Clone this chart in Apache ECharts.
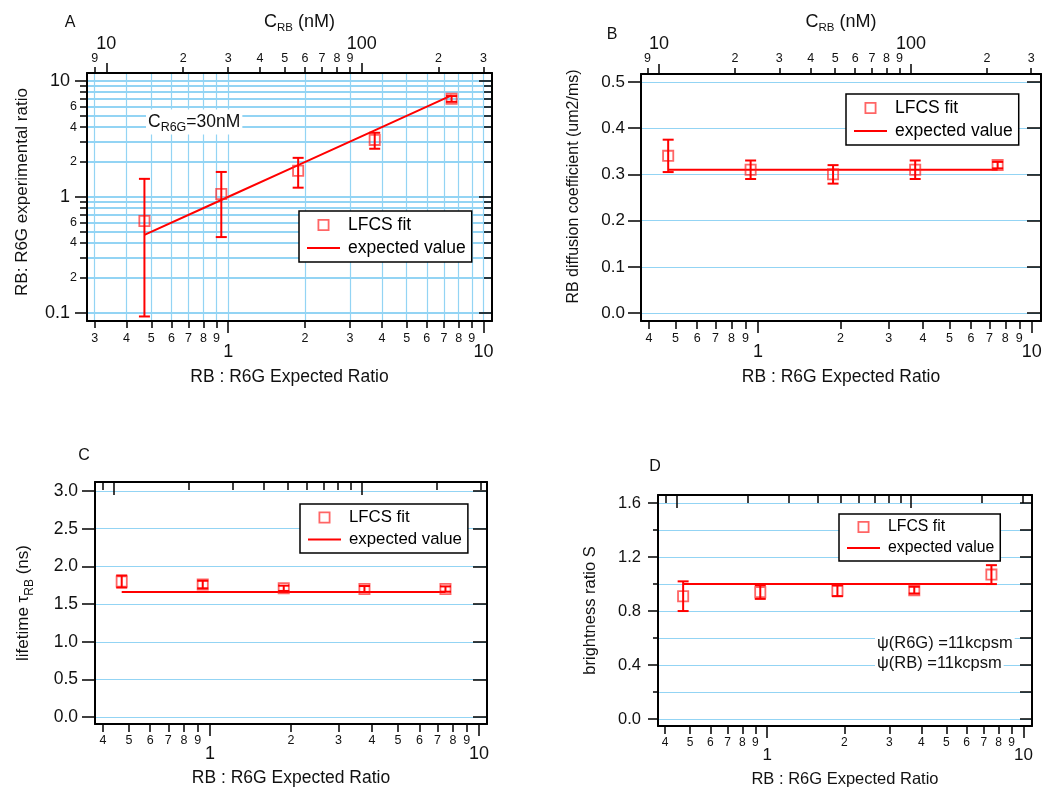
<!DOCTYPE html>
<html><head><meta charset="utf-8">
<script src="https://cdn.jsdelivr.net/npm/echarts@6/dist/echarts.min.js"></script>
<style>html,body{margin:0;padding:0;background:#fff}#c{width:1047px;height:787px}</style>
</head><body><div id="c"></div>
<script>
// ---------------- data ----------------
const expectedRatio = [0.47, 0.94, 1.88, 3.75, 7.5];     // RB : R6G expected ratio (x of every panel)
// Panel A : experimental ratio
const ratioFit = [0.62, 1.06, 1.68, 3.1, 7.0];
const ratioLow = [0.093, 0.45, 1.2, 2.6, 6.6];
const ratioHigh = [1.43, 1.64, 2.17, 3.57, 7.4];
const ratioExpected = [0.47, 0.94, 1.88, 3.75, 7.5];
// Panel B : diffusion coefficient
const diffFit = [0.34, 0.31, 0.30, 0.31, 0.32];
const diffErr = [0.035, 0.02, 0.02, 0.02, 0.007];
const diffExpected = [0.31, 0.31, 0.31, 0.31, 0.31];
// Panel C : lifetime
const lifeFit = [1.80, 1.76, 1.71, 1.70, 1.70];
const lifeErr = [0.08, 0.05, 0.035, 0.04, 0.035];
const lifeExpected = [1.66, 1.66, 1.66, 1.66, 1.66];
// Panel D : brightness ratio
const brightFit = [0.91, 0.94, 0.95, 0.955, 1.07];
const brightErr = [0.11, 0.05, 0.04, 0.025, 0.07];
const brightExpected = [1.0, 1.0, 1.0, 1.0, 1.0];

// ---------------- tick values ----------------
const ratioMajorTicks = [1, 10];
const ratioMinorTicksA = [0.3, 0.4, 0.5, 0.6, 0.7, 0.8, 0.9, 2, 3, 4, 5, 6, 7, 8, 9];
const ratioMinorTicks = [0.4, 0.5, 0.6, 0.7, 0.8, 0.9, 2, 3, 4, 5, 6, 7, 8, 9];
const concMajorTicks = [10, 100];
const concMinorTicks = [9, 20, 30, 40, 50, 60, 70, 80, 90, 200, 300];
const logMajorTicksA = [0.1, 1, 10];
const logMinorTicksA = [0.2, 0.3, 0.4, 0.5, 0.6, 0.7, 0.8, 0.9, 2, 3, 4, 5, 6, 7, 8, 9];
const logMinorLabelsA = [0.2, 0.4, 0.6, 2, 4, 6];
const diffTicks = [0, 0.1, 0.2, 0.3, 0.4, 0.5];
const lifeTicks = [0, 0.5, 1.0, 1.5, 2.0, 2.5, 3.0];
const brightLabelTicks = [0, 0.4, 0.8, 1.2, 1.6];
const brightMinorTicks = [0.2, 0.6, 1.0, 1.4];

// ---------------- styling ----------------
const FONT = '"Liberation Sans", Arial, Helvetica, sans-serif';
const BLUE = '#93d4f4';
const RED = '#ff0000';
const SQ_COLOR = 'rgba(255,30,30,0.85)';
const SQ = 'path://M0,0H12V12H0ZM1.8,1.8V10.2H10.2V1.8Z';
const TXT = '#111';

function leadDigit(v) {
  const p = Math.pow(10, Math.floor(Math.log10(v) + 1e-9));
  return String(Math.round(v / p));
}
function majorLog(v) { return String(+Number(v).toPrecision(6)); }
function fix1(v) { return Number(v).toFixed(1); }

const xAxes = [], yAxes = [];
function ax(list, o) {
  const a = {
    gridIndex: o.g, type: o.type, position: o.pos, min: o.min, max: o.max,
    axisLine: { show: !!o.line, onZero: false, lineStyle: { color: '#000', width: 2 } },
    axisTick: { show: !!(o.ticks && o.ticks.length), customValues: o.ticks || [], length: o.tickLen || 0,
                inside: !!o.inside, lineStyle: { color: '#000', width: 1.5 } },
    axisLabel: { show: !!(o.labels && o.labels.length), customValues: o.labels || [], fontSize: o.fs || 12,
                 fontFamily: FONT, color: TXT, margin: o.margin || 8, formatter: o.fmt },
    splitLine: { show: !!o.split, lineStyle: { color: BLUE, width: o.splitW || 1.2 } },
    minorTick: { show: false }, minorSplitLine: { show: false }
  };
  if (o.type === 'log') a.logBase = 10;
  if (o.name) {
    a.name = o.name; a.nameLocation = 'middle'; a.nameGap = o.nameGap;
    a.nameTextStyle = Object.assign({ fontSize: o.nameFs || 17.5, fontFamily: FONT, color: TXT }, o.nameStyle || {});
  }
  list.push(a);
  return list.length - 1;
}

const grids = [
  { left: 87, top: 73, width: 405, height: 248 },
  { left: 641, top: 74, width: 400, height: 247 },
  { left: 95, top: 482, width: 392, height: 242 },
  { left: 658, top: 495, width: 374, height: 231 }
].map(g => Object.assign({ show: false, outerBoundsMode: 'none', containLabel: false }, g));

const series = [];
function addData(xi, yi, fit, lo, hi, expected) {
  series.push({
    type: 'line', name: 'expected value', xAxisIndex: xi, yAxisIndex: yi, symbol: 'none', showSymbol: false,
    color: RED, lineStyle: { color: RED, width: 2 }, z: 2, silent: true,
    data: expectedRatio.map((x, i) => [x, expected[i]])
  });
  series.push({
    type: 'custom', name: 'error', xAxisIndex: xi, yAxisIndex: yi, z: 4, silent: true,
    data: expectedRatio.map((x, i) => [x, lo[i], hi[i]]),
    renderItem: function (params, api) {
      const x = api.value(0);
      const p1 = api.coord([x, api.value(1)]);
      const p2 = api.coord([x, api.value(2)]);
      const hw = 5.5;
      const st = { stroke: RED, lineWidth: 2 };
      return { type: 'group', children: [
        { type: 'line', shape: { x1: p1[0], y1: p1[1], x2: p2[0], y2: p2[1] }, style: st },
        { type: 'line', shape: { x1: p1[0] - hw, y1: p1[1], x2: p1[0] + hw, y2: p1[1] }, style: st },
        { type: 'line', shape: { x1: p2[0] - hw, y1: p2[1], x2: p2[0] + hw, y2: p2[1] }, style: st }
      ] };
    }
  });
  series.push({
    type: 'scatter', name: 'LFCS fit', xAxisIndex: xi, yAxisIndex: yi, symbol: SQ, symbolSize: 12,
    itemStyle: { color: SQ_COLOR }, z: 3, silent: true,
    data: expectedRatio.map((x, i) => [x, fit[i]])
  });
}

const xTitle = 'RB : R6G Expected Ratio';
const concName = 'C{s|RB} (nM)';
const concStyle = { fontSize: 18, rich: { s: { fontSize: 11.5, fontFamily: FONT, color: TXT, padding: [12, 0, 0, 0] } } };

// ---------- Panel A ----------
{
  const g = 0;
  const xb = ax(xAxes, { g, type: 'log', pos: 'bottom', min: 0.28, max: 10.8, ticks: ratioMajorTicks, tickLen: 12,
    labels: ratioMajorTicks, fs: 18, margin: 22, fmt: majorLog, line: true, split: true, splitW: 1.2,
    name: xTitle, nameGap: 47 });
  ax(xAxes, { g, type: 'log', pos: 'bottom', min: 0.28, max: 10.8, ticks: ratioMinorTicksA, tickLen: 7,
    labels: ratioMinorTicksA, fs: 12.5, margin: 11, fmt: leadDigit, split: true, splitW: 1.2 });
  ax(xAxes, { g, type: 'log', pos: 'top', min: 8.4, max: 324, ticks: concMajorTicks, tickLen: 10,
    labels: concMajorTicks, fs: 18, margin: 20, fmt: majorLog, line: true,
    name: concName, nameGap: 36, nameStyle: Object.assign({ padding: [0, 0, 0, 20] }, concStyle) });
  ax(xAxes, { g, type: 'log', pos: 'top', min: 8.4, max: 324, ticks: concMinorTicks, tickLen: 6,
    labels: concMinorTicks, fs: 12.5, margin: 8, fmt: leadDigit });
  const yl = ax(yAxes, { g, type: 'log', pos: 'left', min: 0.085, max: 11.7, ticks: logMajorTicksA, tickLen: 12,
    labels: logMajorTicksA, fs: 18, margin: 17, fmt: majorLog, line: true, split: true, splitW: 1.8,
    name: 'RB: R6G experimental ratio', nameGap: 56, nameFs: 17, nameStyle: { padding: [0, 0, 0, 10] } });
  ax(yAxes, { g, type: 'log', pos: 'left', min: 0.085, max: 11.7, ticks: logMinorTicksA, tickLen: 7,
    labels: logMinorLabelsA, fs: 12.5, margin: 10, fmt: leadDigit, split: true, splitW: 1.8 });
  ax(yAxes, { g, type: 'log', pos: 'right', min: 0.085, max: 11.7, ticks: logMajorTicksA, tickLen: 13, inside: true, line: true });
  ax(yAxes, { g, type: 'log', pos: 'right', min: 0.085, max: 11.7, ticks: logMinorTicksA, tickLen: 8, inside: true });
  addData(xb, yl, ratioFit, ratioLow, ratioHigh, ratioExpected);
}
// ---------- Panel B ----------
{
  const g = 1;
  const xb = ax(xAxes, { g, type: 'log', pos: 'bottom', min: 0.374, max: 10.8, ticks: ratioMajorTicks, tickLen: 12,
    labels: ratioMajorTicks, fs: 18, margin: 22, fmt: majorLog, line: true, name: xTitle, nameGap: 47 });
  ax(xAxes, { g, type: 'log', pos: 'bottom', min: 0.374, max: 10.8, ticks: ratioMinorTicks, tickLen: 8,
    labels: ratioMinorTicks, fs: 12.5, margin: 11, fmt: leadDigit });
  ax(xAxes, { g, type: 'log', pos: 'top', min: 8.48, max: 328, ticks: concMajorTicks, tickLen: 10,
    labels: concMajorTicks, fs: 18, margin: 21, fmt: majorLog, line: true,
    name: concName, nameGap: 37, nameStyle: concStyle });
  ax(xAxes, { g, type: 'log', pos: 'top', min: 8.48, max: 328, ticks: concMinorTicks, tickLen: 6,
    labels: concMinorTicks, fs: 12.5, margin: 9, fmt: leadDigit });
  const yl = ax(yAxes, { g, type: 'value', pos: 'left', min: -0.017, max: 0.517, ticks: diffTicks, tickLen: 13,
    labels: diffTicks, fs: 17, margin: 16, fmt: fix1, line: true, split: true, splitW: 1.2,
    name: 'RB diffusion coefficient (um2/ms)', nameGap: 59, nameFs: 16, nameStyle: { padding: [0, 0, 0, 22] } });
  ax(yAxes, { g, type: 'value', pos: 'right', min: -0.017, max: 0.517, ticks: diffTicks, tickLen: 14, inside: true, line: true });
  addData(xb, yl, diffFit, diffFit.map((v, i) => v - diffErr[i]), diffFit.map((v, i) => v + diffErr[i]), diffExpected);
}
// ---------- Panel C ----------
{
  const g = 2;
  const xb = ax(xAxes, { g, type: 'log', pos: 'bottom', min: 0.374, max: 10.7, ticks: ratioMajorTicks, tickLen: 12,
    labels: ratioMajorTicks, fs: 18, margin: 21, fmt: majorLog, line: true, name: xTitle, nameGap: 45 });
  ax(xAxes, { g, type: 'log', pos: 'bottom', min: 0.374, max: 10.7, ticks: ratioMinorTicks, tickLen: 8,
    labels: ratioMinorTicks, fs: 12.5, margin: 10, fmt: leadDigit });
  ax(xAxes, { g, type: 'log', pos: 'top', min: 8.38, max: 319, ticks: concMajorTicks, tickLen: 13, inside: true, line: true });
  ax(xAxes, { g, type: 'log', pos: 'top', min: 8.38, max: 319, ticks: concMinorTicks, tickLen: 8, inside: true });
  const yl = ax(yAxes, { g, type: 'value', pos: 'left', min: -0.09, max: 3.12, ticks: lifeTicks, tickLen: 13,
    labels: lifeTicks, fs: 17.5, margin: 17, fmt: fix1, line: true, split: true, splitW: 1.2,
    name: 'lifetime τ{s|RB} (ns)', nameGap: 59, nameFs: 17,
    nameStyle: { rich: { s: { fontSize: 12, fontFamily: FONT, color: TXT, padding: [13, 0, 0, 0] } } } });
  ax(yAxes, { g, type: 'value', pos: 'right', min: -0.09, max: 3.12, ticks: lifeTicks, tickLen: 14, inside: true, line: true });
  addData(xb, yl, lifeFit, lifeFit.map((v, i) => v - lifeErr[i]), lifeFit.map((v, i) => v + lifeErr[i]), lifeExpected);
}
// ---------- Panel D ----------
{
  const g = 3;
  const xb = ax(xAxes, { g, type: 'log', pos: 'bottom', min: 0.375, max: 10.8, ticks: ratioMajorTicks, tickLen: 12,
    labels: ratioMajorTicks, fs: 17, margin: 21, fmt: majorLog, line: true, name: xTitle, nameGap: 45, nameFs: 16.5 });
  ax(xAxes, { g, type: 'log', pos: 'bottom', min: 0.375, max: 10.8, ticks: ratioMinorTicks, tickLen: 8,
    labels: ratioMinorTicks, fs: 12, margin: 11, fmt: leadDigit });
  ax(xAxes, { g, type: 'log', pos: 'top', min: 8.3, max: 329, ticks: concMajorTicks, tickLen: 13, inside: true, line: true });
  ax(xAxes, { g, type: 'log', pos: 'top', min: 8.3, max: 329, ticks: concMinorTicks, tickLen: 8, inside: true });
  const yl = ax(yAxes, { g, type: 'value', pos: 'left', min: -0.052, max: 1.66, ticks: brightLabelTicks, tickLen: 10,
    labels: brightLabelTicks, fs: 16.5, margin: 17, fmt: fix1, line: true, split: true, splitW: 1.2,
    name: 'brightness ratio S', nameGap: 59, nameFs: 16.5 });
  ax(yAxes, { g, type: 'value', pos: 'left', min: -0.052, max: 1.66, ticks: brightMinorTicks, tickLen: 5, split: true, splitW: 1.2 });
  ax(yAxes, { g, type: 'value', pos: 'right', min: -0.052, max: 1.66, ticks: brightLabelTicks.concat(brightMinorTicks),
    tickLen: 12, inside: true, line: true });
  addData(xb, yl, brightFit, brightFit.map((v, i) => v - brightErr[i]), brightFit.map((v, i) => v + brightErr[i]), brightExpected);
}

function legend(left, top, fs) {
  return {
    left, top, orient: 'vertical', selectedMode: false, backgroundColor: '#fff', borderColor: '#000',
    borderWidth: 1.5, borderRadius: 0, padding: [5, 6, 5, 7], itemGap: 5, itemWidth: 33, itemHeight: 12,
    textStyle: { fontSize: fs, fontFamily: FONT, color: '#000', padding: [0, 0, 0, 3] }, z: 6,
    data: [{ name: 'LFCS fit' }, { name: 'expected value', itemStyle: { opacity: 0 } }]
  };
}

function label(text, x, y, fs) {
  return { type: 'text', z: 10, style: { text, x, y, align: 'center', verticalAlign: 'middle', fontSize: fs || 16, fontFamily: FONT, fill: TXT } };
}

const option = {
  animation: false,
  backgroundColor: '#fff',
  grid: grids,
  xAxis: xAxes,
  yAxis: yAxes,
  legend: [legend(299, 211, 17.5), legend(846, 94, 17.5), legend(300, 504, 16.8), legend(839, 514, 15.8)],
  series: series,
  graphic: [
    label('A', 70, 23), label('B', 612, 35), label('C', 84, 456), label('D', 655, 467),
    { type: 'text', z: 10, style: { text: 'C{s|R6G}=30nM', x: 146, y: 122, align: 'left', verticalAlign: 'middle',
      fontSize: 17.5, fontFamily: FONT, fill: TXT, backgroundColor: '#fff', padding: [0, 2],
      rich: { s: { fontSize: 12.5, fontFamily: FONT, fill: TXT, padding: [12, 0, 0, 0] } } } },
    { type: 'text', z: 10, style: { text: 'ψ(R6G) =11kcpsm', x: 875, y: 643, align: 'left', verticalAlign: 'middle',
      fontSize: 16.5, fontFamily: FONT, fill: TXT, backgroundColor: '#fff', padding: [0, 2] } },
    { type: 'text', z: 10, style: { text: 'ψ(RB) =11kcpsm', x: 875, y: 663, align: 'left', verticalAlign: 'middle',
      fontSize: 16.5, fontFamily: FONT, fill: TXT, backgroundColor: '#fff', padding: [0, 2] } }
  ]
};

const chart = echarts.init(document.getElementById('c'), null, { renderer: 'canvas', width: 1047, height: 787 });
chart.setOption(option);
</script>
</body></html>
